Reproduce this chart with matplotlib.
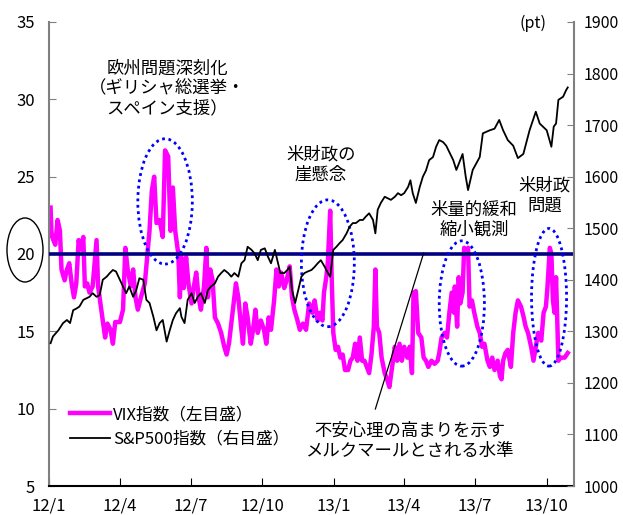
import matplotlib
matplotlib.use("Agg")
import matplotlib.pyplot as plt
import matplotlib.dates as mdates
from matplotlib.patches import Ellipse
import pandas as pd

plt.rcParams['font.family'] = ['Noto Sans CJK JP', 'DejaVu Sans']

# VIX (left scale)
vix_dates = [
    "2012-01-03", "2012-01-04", "2012-01-05", "2012-01-09", "2012-01-12", "2012-01-15", "2012-01-17",
    "2012-01-21", "2012-01-24", "2012-01-27", "2012-01-30", "2012-02-02", "2012-02-05", "2012-02-08",
    "2012-02-11", "2012-02-14", "2012-02-16", "2012-02-19", "2012-02-22", "2012-02-26", "2012-03-02",
    "2012-03-04", "2012-03-07", "2012-03-10", "2012-03-13", "2012-03-16", "2012-03-20", "2012-03-23",
    "2012-03-26", "2012-04-01", "2012-04-05", "2012-04-08", "2012-04-11", "2012-04-15", "2012-04-18",
    "2012-04-21", "2012-04-24", "2012-04-28", "2012-05-03", "2012-05-06", "2012-05-09", "2012-05-12",
    "2012-05-15", "2012-05-18", "2012-05-22", "2012-05-26", "2012-05-29", "2012-06-02", "2012-06-05",
    "2012-06-08", "2012-06-11", "2012-06-15", "2012-06-17", "2012-06-19", "2012-06-22", "2012-06-25",
    "2012-06-28", "2012-07-02", "2012-07-05", "2012-07-08", "2012-07-11", "2012-07-14", "2012-07-18",
    "2012-07-21", "2012-07-23", "2012-07-26", "2012-07-29", "2012-08-01", "2012-08-05", "2012-08-09",
    "2012-08-13", "2012-08-16", "2012-08-19", "2012-08-22", "2012-08-25", "2012-08-28", "2012-08-31",
    "2012-09-04", "2012-09-06", "2012-09-09", "2012-09-12", "2012-09-16", "2012-09-19", "2012-09-22",
    "2012-09-25", "2012-09-29", "2012-10-03", "2012-10-06", "2012-10-09", "2012-10-12", "2012-10-16",
    "2012-10-19", "2012-10-22", "2012-10-25", "2012-10-29", "2012-11-01", "2012-11-05", "2012-11-08",
    "2012-11-11", "2012-11-15", "2012-11-18", "2012-11-22", "2012-11-26", "2012-11-30", "2012-12-04",
    "2012-12-07", "2012-12-11", "2012-12-14", "2012-12-17", "2012-12-19", "2012-12-22", "2012-12-24",
    "2012-12-27", "2012-12-29", "2012-12-31", "2013-01-03", "2013-01-06", "2013-01-09", "2013-01-12",
    "2013-01-15", "2013-01-19", "2013-01-22", "2013-01-25", "2013-01-28", "2013-01-31", "2013-02-03",
    "2013-02-06", "2013-02-09", "2013-02-12", "2013-02-15", "2013-02-18", "2013-02-21", "2013-02-23",
    "2013-02-25", "2013-02-28", "2013-03-03", "2013-03-07", "2013-03-10", "2013-03-13", "2013-03-16",
    "2013-03-20", "2013-03-23", "2013-03-26", "2013-03-29", "2013-04-01", "2013-04-05", "2013-04-08",
    "2013-04-11", "2013-04-13", "2013-04-16", "2013-04-19", "2013-04-23", "2013-04-26", "2013-04-29",
    "2013-05-02", "2013-05-06", "2013-05-10", "2013-05-14", "2013-05-16", "2013-05-19", "2013-05-23",
    "2013-05-26", "2013-05-29", "2013-06-01", "2013-06-04", "2013-06-05", "2013-06-08", "2013-06-10",
    "2013-06-12", "2013-06-15", "2013-06-17", "2013-06-19", "2013-06-22", "2013-06-24", "2013-06-27",
    "2013-06-30", "2013-07-04", "2013-07-07", "2013-07-10", "2013-07-13", "2013-07-17", "2013-07-20",
    "2013-07-23", "2013-07-26", "2013-07-30", "2013-08-02", "2013-08-04", "2013-08-06", "2013-08-09",
    "2013-08-12", "2013-08-16", "2013-08-19", "2013-08-22", "2013-08-25", "2013-08-29", "2013-09-01",
    "2013-09-04", "2013-09-07", "2013-09-11", "2013-09-14", "2013-09-17", "2013-09-20", "2013-09-24",
    "2013-09-27", "2013-09-30", "2013-10-02", "2013-10-05", "2013-10-07", "2013-10-09", "2013-10-11",
    "2013-10-13", "2013-10-16", "2013-10-19", "2013-10-24", "2013-10-28",
]
vix_values = [
    23.0, 21.5, 21.1, 20.6, 22.2, 21.5, 19.0,
    18.3, 19.0, 19.4, 18.1, 17.2, 18.1, 20.9,
    20.3, 21.1, 17.9, 18.1, 17.5, 17.9, 20.9,
    17.9, 16.8, 15.7, 14.6, 15.5, 15.1, 14.2,
    15.6, 15.6, 16.4, 20.4, 19.0, 17.9, 19.0,
    17.2, 16.4, 17.2, 18.1, 19.8, 21.5, 24.1,
    25.0, 22.0, 22.2, 21.1, 26.7, 26.3, 21.5,
    24.3, 21.5, 20.0, 17.2, 19.8, 17.8, 19.8,
    18.1, 16.8, 17.9, 18.8, 17.2, 16.4, 17.9,
    20.4, 17.2, 19.0, 18.3, 15.9, 15.5, 14.9,
    14.0, 13.5, 14.2, 15.5, 16.8, 18.1, 17.2,
    15.1, 14.2, 16.8, 15.9, 14.2, 15.1, 16.4,
    14.9, 15.7, 15.1, 14.2, 15.9, 15.1, 17.0,
    19.0, 17.9, 18.8, 17.8, 18.3, 19.2, 17.2,
    16.4, 15.7, 15.1, 15.5, 15.1, 16.8, 16.2,
    17.0, 15.7, 16.2, 15.7, 17.5, 18.5, 19.5,
    22.8, 18.3, 14.9, 13.8, 14.0, 13.3, 13.5,
    12.5, 12.5, 13.1, 13.3, 14.2, 13.1, 14.6,
    13.1, 13.1, 12.7, 12.3, 13.5, 15.3, 19.0,
    15.3, 14.9, 13.3, 12.3, 11.9, 11.4, 12.5,
    14.0, 13.1, 14.2, 13.1, 14.0, 13.3, 14.0,
    12.3, 17.5, 17.6, 14.9, 14.6, 13.3, 13.1,
    12.7, 13.1, 12.9, 13.1, 13.6, 14.6, 14.9,
    14.6, 16.2, 17.5, 16.2, 17.9, 15.3, 18.5,
    16.8, 17.5, 20.4, 19.9, 20.4, 16.6, 17.0,
    16.2, 15.3, 14.9, 14.0, 14.2, 13.1, 12.7,
    13.3, 12.5, 13.1, 12.1, 11.9, 13.1, 13.6,
    13.8, 12.7, 14.9, 16.2, 17.0, 16.6, 16.0,
    15.3, 14.9, 14.0, 13.1, 14.0, 14.9, 14.4,
    16.2, 16.6, 17.9, 20.4, 20.0, 17.0, 16.2,
    18.5, 13.1, 13.3, 13.3, 13.6,
]

# S&P500 (right scale)
spx_dates = [
    "2012-01-03", "2012-01-06", "2012-01-13", "2012-01-19", "2012-01-24", "2012-01-28", "2012-02-01",
    "2012-02-05", "2012-02-09", "2012-02-14", "2012-02-18", "2012-02-22", "2012-02-26", "2012-03-02",
    "2012-03-06", "2012-03-10", "2012-03-15", "2012-03-19", "2012-03-23", "2012-03-27", "2012-04-01",
    "2012-04-05", "2012-04-09", "2012-04-13", "2012-04-18", "2012-04-22", "2012-04-26", "2012-05-01",
    "2012-05-05", "2012-05-09", "2012-05-14", "2012-05-18", "2012-05-22", "2012-05-26", "2012-05-31",
    "2012-06-04", "2012-06-08", "2012-06-12", "2012-06-17", "2012-06-19", "2012-06-23", "2012-06-27",
    "2012-07-02", "2012-07-06", "2012-07-10", "2012-07-14", "2012-07-19", "2012-07-23", "2012-07-27",
    "2012-08-01", "2012-08-05", "2012-08-09", "2012-08-13", "2012-08-18", "2012-08-22", "2012-08-26",
    "2012-08-31", "2012-09-04", "2012-09-08", "2012-09-12", "2012-09-17", "2012-09-21", "2012-09-25",
    "2012-09-29", "2012-10-04", "2012-10-08", "2012-10-12", "2012-10-17", "2012-10-21", "2012-10-24",
    "2012-10-29", "2012-11-02", "2012-11-05", "2012-11-08", "2012-11-12", "2012-11-16", "2012-11-20",
    "2012-11-24", "2012-11-28", "2012-12-03", "2012-12-07", "2012-12-11", "2012-12-15", "2012-12-20",
    "2012-12-24", "2012-12-27", "2012-12-31", "2013-01-04", "2013-01-08", "2013-01-12", "2013-01-17",
    "2013-01-21", "2013-01-25", "2013-01-29", "2013-02-03", "2013-02-07", "2013-02-11", "2013-02-15",
    "2013-02-20", "2013-02-23", "2013-02-26", "2013-03-02", "2013-03-07", "2013-03-11", "2013-03-15",
    "2013-03-20", "2013-03-24", "2013-03-28", "2013-04-01", "2013-04-06", "2013-04-09", "2013-04-12",
    "2013-04-16", "2013-04-21", "2013-04-25", "2013-04-29", "2013-05-03", "2013-05-08", "2013-05-12",
    "2013-05-16", "2013-05-21", "2013-05-25", "2013-06-03", "2013-06-07", "2013-06-15", "2013-06-19",
    "2013-06-22", "2013-06-28", "2013-07-07", "2013-07-11", "2013-07-20", "2013-07-26", "2013-08-01",
    "2013-08-06", "2013-08-12", "2013-08-19", "2013-08-25", "2013-09-01", "2013-09-09", "2013-09-17",
    "2013-09-22", "2013-10-01", "2013-10-07", "2013-10-10", "2013-10-13", "2013-10-16", "2013-10-22",
    "2013-10-26", "2013-10-28",
]
spx_values = [
    1277, 1290, 1302, 1316, 1322, 1316, 1341,
    1344, 1348, 1361, 1364, 1367, 1374, 1367,
    1370, 1400, 1406, 1413, 1419, 1416, 1400,
    1387, 1374, 1387, 1367, 1380, 1403, 1400,
    1361, 1355, 1328, 1302, 1316, 1322, 1280,
    1302, 1322, 1335, 1345, 1328, 1316, 1361,
    1374, 1355, 1367, 1374, 1355, 1380, 1387,
    1393, 1406, 1413, 1419, 1413, 1406, 1413,
    1406, 1432, 1438, 1464, 1458, 1451, 1438,
    1458, 1461, 1445, 1432, 1458, 1432, 1413,
    1413, 1419, 1425, 1380, 1355, 1380, 1406,
    1413, 1416, 1419, 1425, 1432, 1438, 1425,
    1413, 1406, 1458, 1464, 1471, 1477, 1490,
    1503, 1510, 1510, 1516, 1516, 1523, 1529,
    1516, 1490, 1536, 1549, 1561, 1558, 1555,
    1561, 1568, 1564, 1568, 1580, 1593, 1568,
    1549, 1580, 1600, 1612, 1632, 1638, 1658,
    1671, 1667, 1660, 1632, 1613, 1644, 1600,
    1574, 1613, 1638, 1684, 1690, 1693, 1710,
    1690, 1671, 1660, 1636, 1644, 1690, 1726,
    1703, 1690, 1658, 1697, 1703, 1749, 1755,
    1768, 1773,
]

tick_dates = ["2012-01-01", "2012-04-01", "2012-07-01", "2012-10-01",
              "2013-01-01", "2013-04-01", "2013-07-01", "2013-10-01"]
tick_labels = ["12/1", "12/4", "12/7", "12/10", "13/1", "13/4", "13/7", "13/10"]

alert_level = 20

# dotted rings around the episodes: (centre date, centre VIX, width in days, height in VIX)
rings = [
    ("2012-05-29", 23.4, 70, 8.1),
    ("2012-12-24", 19.4, 68, 8.2),
    ("2013-06-14", 16.8, 58, 8.1),
    ("2013-10-04", 17.2, 45, 8.9),
]
notes = [
    ("2012-06-01", 30.7, "欧州問題深刻化\n（ギリシャ総選挙・\nスペイン支援）"),
    ("2012-12-15", 25.75, "米財政の\n崖懸念"),
    ("2013-06-30", 22.2, "米量的緩和\n縮小観測"),
    ("2013-09-28", 23.8, "米財政\n問題"),
]

vix_x = pd.to_datetime(vix_dates)
spx_x = pd.to_datetime(spx_dates)

fig = plt.figure(figsize=(6.23, 5.15), dpi=100)
ax = fig.add_axes([0.0787, 0.0563, 0.8426, 0.901])
ax2 = ax.twinx()

l1, = ax.plot(vix_x, vix_values, color='#FF00FF', lw=3.2, zorder=2)
ax.axhline(alert_level, color='#000080', lw=2.6, zorder=4)
l2, = ax2.plot(spx_x, spx_values, color='black', lw=1.3, zorder=3)

ax.set_xlim(pd.Timestamp("2012-01-01"), pd.Timestamp("2013-11-05"))
ax.set_ylim(5, 35)
ax.set_yticks(range(5, 36, 5))
ax2.set_ylim(1000, 1900)
ax2.set_yticks(range(1000, 1901, 100))
ax.set_xticks(pd.to_datetime(tick_dates))
ax.set_xticklabels(tick_labels)

ax.tick_params(axis='x', direction='in', length=6, labelsize=12, pad=8, color='black')
ax.tick_params(axis='y', direction='in', length=5, labelsize=12, pad=10, color='#808080')
ax2.tick_params(axis='y', direction='in', length=5, labelsize=11.5, pad=7, color='#808080')

for s in ['top', 'right']:
    ax.spines[s].set_visible(False)
for s in ['top', 'left', 'bottom']:
    ax2.spines[s].set_visible(False)
ax.spines['left'].set_color('#808080')
ax.spines['left'].set_linewidth(1.5)
ax2.spines['right'].set_color('#808080')
ax2.spines['right'].set_linewidth(1.5)
ax.spines['bottom'].set_linewidth(1.5)

for d, yc, w, h in rings:
    ax.add_patch(Ellipse((mdates.date2num(pd.Timestamp(d)), yc), w, h, fill=False,
                         ec='#0000FF', lw=2.0, ls=(0, (1, 1.3)), zorder=5))

for d, yc, txt in notes:
    ax.text(pd.Timestamp(d), yc, txt, ha='center', va='center', fontsize=12.5,
            linespacing=1.15, zorder=6)

ax.plot(pd.to_datetime(["2013-02-23", "2013-04-26"]), [9.98, 20.06], color='black', lw=0.9, zorder=6)
ax.text(pd.Timestamp("2013-04-08"), 7.9, "不安心理の高まりを示す\nメルクマールとされる水準",
        ha='center', va='center', fontsize=12.5, linespacing=1.15, zorder=6)

ax.text(0.922, 0.998, "(pt)", transform=ax.transAxes, ha='center', va='center', fontsize=11.5)

# ring around the 20 label on the left scale
fig.patches.append(Ellipse((0.0401, 0.5146), 0.0578, 0.1243, transform=fig.transFigure,
                           fill=False, ec='black', lw=1.0))

ax2.legend([l1, l2], ["VIX指数（左目盛）", "S&P500指数（右目盛）"], loc='upper left',
           bbox_to_anchor=(0.04, 0.172), frameon=False, fontsize=12, handlelength=2.4,
           handletextpad=0.2, borderpad=0, borderaxespad=0, labelspacing=0.45)

fig.savefig("out.png", dpi=100)
